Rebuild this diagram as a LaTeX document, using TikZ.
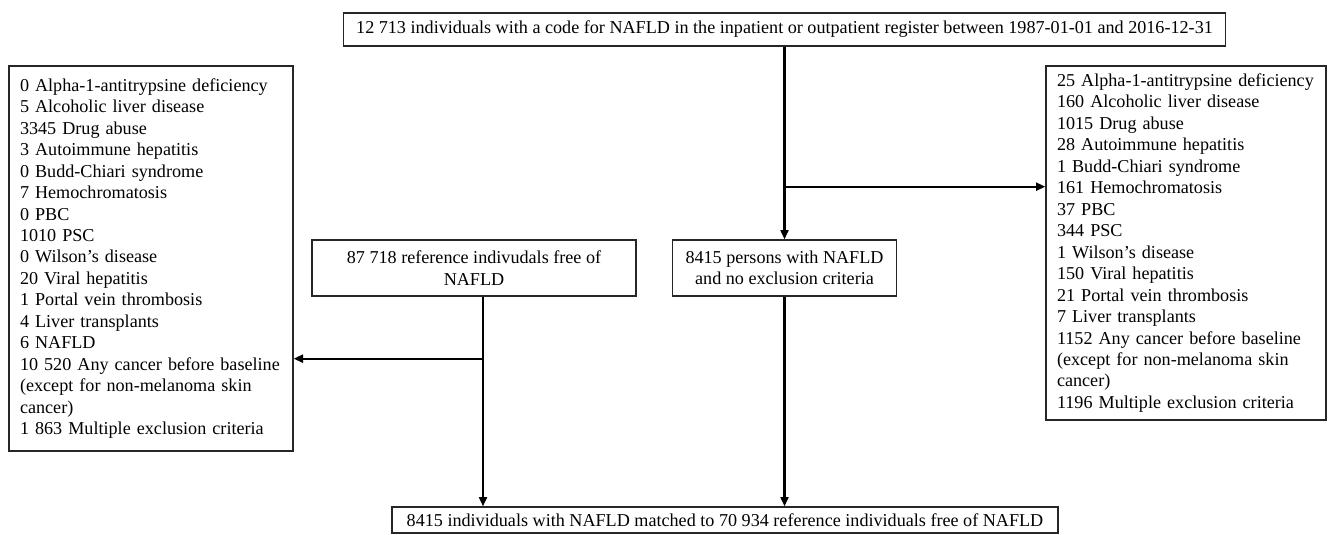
\documentclass[tikz,border=0pt]{standalone}
\usepackage{fontspec}
\setmainfont{Liberation Serif}
\usetikzlibrary{arrows.meta,calc}
\begin{document}
\begin{tikzpicture}[x=0.75pt,y=-0.75pt,
  box/.style={draw=black!85,line width=1pt,inner sep=0pt,
    font=\fontsize{13.6}{16.1}\selectfont},
  listbox/.style={box,align=left,inner xsep=8.25pt},
  cbox/.style={box,align=center},
  arr/.style={line width=1.6pt,-{Triangle[length=7pt,width=6pt]}}]
\useasboundingbox (0,0) rectangle (1328,535);
\node[cbox,minimum width=661.5pt,minimum height=24.75pt] (top) at (784.5,29.5)
  {12 713 individuals with a code for NAFLD in the inpatient or outpatient register between 1987-01-01 and 2016-12-31};
\node[listbox,minimum width=213pt,minimum height=288.75pt,text width=196.5pt] (left) at (151,258.5)
  {0 Alpha-1-antitrypsine deficiency\\
   5 Alcoholic liver disease\\
   3345 Drug abuse\\
   3 Autoimmune hepatitis\\
   0 Budd-Chiari syndrome\\
   7 Hemochromatosis\\
   0 PBC\\
   1010 PSC\\
   0 Wilson’s disease\\
   20 Viral hepatitis\\
   1 Portal vein thrombosis\\
   4 Liver transplants\\
   6 NAFLD\\
   10 520 Any cancer before baseline\\
   (except for non-melanoma skin\\
   cancer)\\
   1 863 Multiple exclusion criteria};
\node[listbox,minimum width=210pt,minimum height=265.5pt,text width=193.5pt] (right) at (1186,243)
  {25 Alpha-1-antitrypsine deficiency\\
   160 Alcoholic liver disease\\
   1015 Drug abuse\\
   28 Autoimmune hepatitis\\
   1 Budd-Chiari syndrome\\
   161 Hemochromatosis\\
   37 PBC\\
   344 PSC\\
   1 Wilson’s disease\\
   150 Viral hepatitis\\
   21 Portal vein thrombosis\\
   7 Liver transplants\\
   1152 Any cancer before baseline\\
   (except for non-melanoma skin\\
   cancer)\\
   1196 Multiple exclusion criteria};
\node[cbox,minimum width=243pt,minimum height=42pt] (ref) at (474,268)
  {87 718 reference indivudals free of\\NAFLD};
\node[cbox,minimum width=168pt,minimum height=42pt] (mid) at (784.5,268)
  {8415 persons with NAFLD\\and no exclusion criteria};
\node[cbox,minimum width=499.5pt,minimum height=19.5pt] (bot) at (725,520)
  {8415 individuals with NAFLD matched to 70 934 reference individuals free of NAFLD};
% connectors
\draw[arr] (top.south) -- (mid.north);
\coordinate (b1) at ($(top.south)+(0,140)$);
\draw[arr] (b1) -- (b1 -| right.west);
\coordinate (r1) at ($(ref.south)+(9,0)$);
\draw[arr] (r1) -- (r1 |- bot.north);
\coordinate (b2) at ($(r1)+(0,62)$);
\draw[arr] (b2) -- (b2 -| left.east);
\draw[arr] (mid.south) -- (mid.south |- bot.north);
\end{tikzpicture}
\end{document}
